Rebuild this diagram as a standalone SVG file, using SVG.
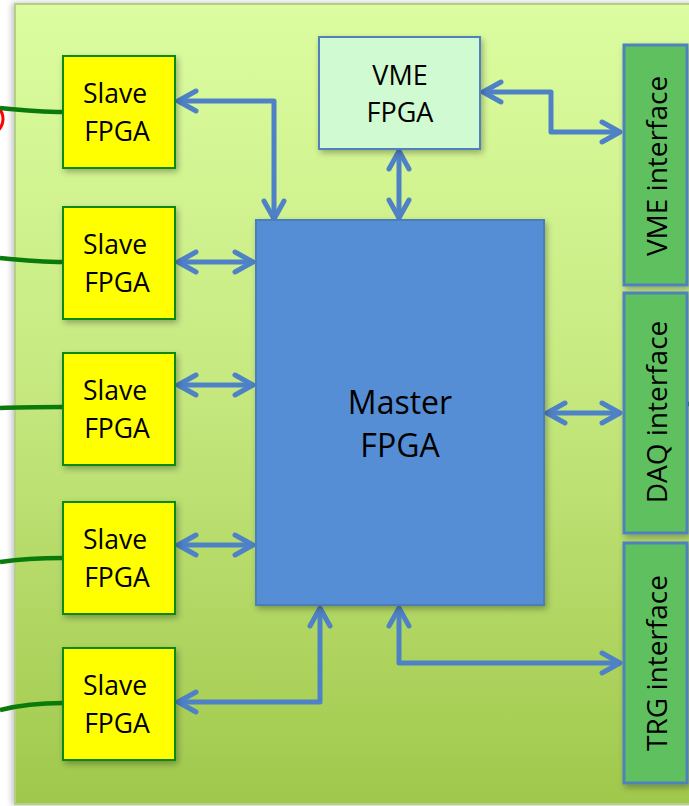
<svg xmlns="http://www.w3.org/2000/svg" width="689" height="806" viewBox="0 0 689 806">
<defs>
<linearGradient id="bg" x1="0" y1="0" x2="0" y2="1">
<stop offset="0" stop-color="#dcfda0"/>
<stop offset="0.45" stop-color="#c8ea82"/>
<stop offset="1" stop-color="#a0c84c"/>
</linearGradient>
<filter id="sh" x="-20%" y="-20%" width="140%" height="140%">
<feDropShadow dx="2" dy="3" stdDeviation="3" flood-color="#000" flood-opacity="0.3"/>
</filter>
<filter id="psh" x="-5%" y="-5%" width="110%" height="110%">
<feDropShadow dx="-2" dy="0" stdDeviation="3" flood-color="#000" flood-opacity="0.25"/>
</filter>
<marker id="ah" markerUnits="userSpaceOnUse" viewBox="-25 -15 30 30" refX="0" refY="0" markerWidth="30" markerHeight="30" orient="auto-start-reverse">
<path d="M-18,-10 L0,0 L-18,10" fill="none" stroke="#4f81c6" stroke-width="5" stroke-linecap="round" stroke-linejoin="round"/>
</marker>
<style>
.txt{font-family:"Open Sans","Liberation Sans",sans-serif;fill:#000;text-anchor:middle}
.slave rect{fill:#ffff00;stroke:#0a8a0a;stroke-width:2}
.slave text{font-size:26.5px}
.iface rect{fill:#5ec05e;stroke:#4f81bd;stroke-width:3}
.iface text{font-size:28px}
.conn path{fill:none;stroke:#4f81c6;stroke-width:5;stroke-linejoin:round;marker-start:url(#ah);marker-end:url(#ah)}
.wire path{fill:none;stroke:#0a7a0a;stroke-width:4.5}
</style>
</defs>
<rect x="0" y="0" width="689" height="806" fill="#ffffff"/>
<circle cx="-13" cy="119" r="16" fill="none" stroke="#ff0000" stroke-width="3"/>
<rect id="panel" x="15" y="4" width="700" height="800" fill="url(#bg)" stroke="#b4cf8a" stroke-width="2" filter="url(#psh)"/>

<g class="wire">
<path d="M0,108 C20,110 40,112 63,112"/>
<path d="M0,258 C20,260 40,262 63,262"/>
<path d="M0,408 C20,407 40,407 63,407"/>
<path d="M0,562 C20,559 40,558 63,558"/>
<path d="M0,710 C20,705 40,703 63,703"/>
<path d="M687,404 L690,404"/>
</g>

<g class="conn">
<path d="M178,101 L274,101 L274,219"/>
<path d="M178,262 L253,262"/>
<path d="M178,385 L253,385"/>
<path d="M178,545 L253,545"/>
<path d="M178,702 L320,702 L320,608"/>
<path d="M399,608 L399,663 L620,663"/>
<path d="M399,151 L399,218"/>
<path d="M483,92 L551,92 L551,132 L620,132"/>
<path d="M547,413 L620,413"/>
</g>

<g id="slave1" class="slave"><rect x="63" y="56" width="112" height="112" filter="url(#sh)"/><text class="txt" x="115" y="103">Slave</text><text class="txt" x="117" y="141">FPGA</text></g>
<g id="slave2" class="slave"><rect x="63" y="207" width="112" height="112" filter="url(#sh)"/><text class="txt" x="115" y="254">Slave</text><text class="txt" x="117" y="292">FPGA</text></g>
<g id="slave3" class="slave"><rect x="63" y="353" width="112" height="112" filter="url(#sh)"/><text class="txt" x="115" y="400">Slave</text><text class="txt" x="117" y="438">FPGA</text></g>
<g id="slave4" class="slave"><rect x="63" y="502" width="112" height="112" filter="url(#sh)"/><text class="txt" x="115" y="549">Slave</text><text class="txt" x="117" y="587">FPGA</text></g>
<g id="slave5" class="slave"><rect x="63" y="648" width="112" height="112" filter="url(#sh)"/><text class="txt" x="115" y="695">Slave</text><text class="txt" x="117" y="733">FPGA</text></g>

<g id="vmefpga"><rect x="319" y="37" width="161" height="112" fill="#d0fbd2" stroke="#4f81bd" stroke-width="2" filter="url(#sh)"/><text class="txt" x="400" y="85" font-size="27">VME</text><text class="txt" x="400" y="122" font-size="27">FPGA</text></g>

<g id="master"><rect x="256" y="220" width="288" height="385" fill="#558ed5" stroke="#4a7ebb" stroke-width="2" filter="url(#sh)"/><text class="txt" x="400" y="414" font-size="32">Master</text><text class="txt" x="400" y="457" font-size="32">FPGA</text></g>

<g id="vmeif" class="iface"><rect x="624" y="45" width="63" height="240" filter="url(#sh)"/><text class="txt" transform="translate(667,166) rotate(-90)">VME interface</text></g>
<g id="daqif" class="iface"><rect x="624" y="293" width="63" height="240" filter="url(#sh)"/><text class="txt" transform="translate(667,412) rotate(-90)">DAQ interface</text></g>
<g id="trgif" class="iface"><rect x="624" y="543" width="63" height="240" filter="url(#sh)"/><text class="txt" transform="translate(667,663) rotate(-90)">TRG interface</text></g>
</svg>
